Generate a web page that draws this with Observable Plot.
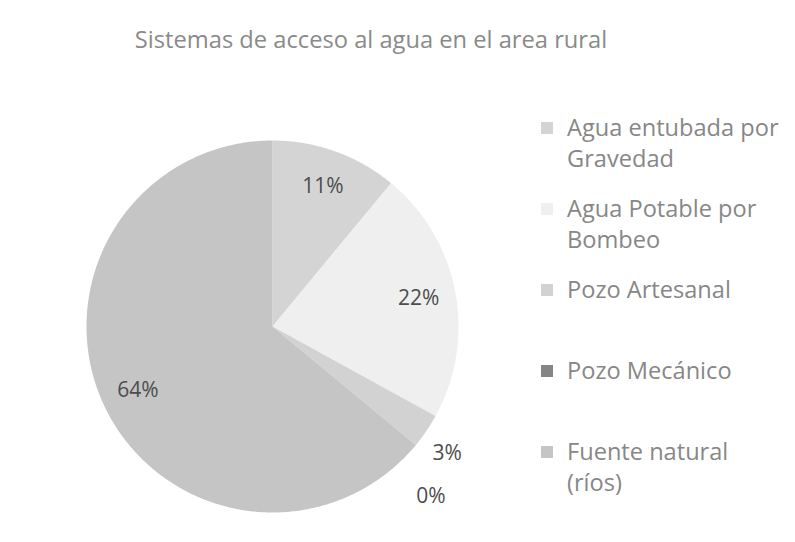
<!DOCTYPE html>
<html>
<head>
<meta charset="utf-8">
<script src="https://cdn.jsdelivr.net/npm/d3@7"></script>
<script src="https://cdn.jsdelivr.net/npm/@observablehq/plot@0.6"></script>
<style>
  html, body { margin: 0; padding: 0; background: #fff; }
  #chart { position: relative; width: 795px; height: 542px; overflow: hidden; font-family: "Open Sans", Lato, sans-serif; }
  #title { position: absolute; left: 0; top: 23px; width: 742px; text-align: center; font-size: 23.7px; color: #8a8a8a; white-space: nowrap; }
  #legend { position: absolute; left: 0; top: 0; }
  .item { position: absolute; left: 541px; display: flex; align-items: flex-start; }
  .sw { width: 12px; height: 12px; margin-top: 10px; margin-right: 14px; flex: none; }
  .lab { width: 217px; font-size: 23.6px; line-height: 31px; color: #878787; }
  svg { position: absolute; left: 0; top: 0; }
</style>
</head>
<body>
<div id="chart">
  <div id="title"></div>
  <div id="legend"></div>
</div>
<script>
const title = "Sistemas de acceso al agua en el area rural";
const categories = ["Agua entubada por Gravedad", "Agua Potable por Bombeo", "Pozo Artesanal", "Pozo Mecánico", "Fuente natural (ríos)"];
const values = [11, 22, 3, 0, 64];
const labels = ["11%", "22%", "3%", "0%", "64%"];
const colors = ["#d4d4d4", "#efefef", "#d2d2d2", "#858585", "#c5c5c5"];

const total = d3.sum(values);
const features = [];
const labelPts = [];
let acc = 0;
let outsideCount = 0;
categories.forEach((name, i) => {
  const a0 = acc / total * 2 * Math.PI;
  acc += values[i];
  const a1 = acc / total * 2 * Math.PI;
  if (values[i] > 0) {
    const ring = [[0, 0]];
    const n = Math.max(2, Math.ceil((a1 - a0) / 0.01));
    for (let k = 0; k <= n; k++) {
      const a = a0 + (a1 - a0) * k / n;
      ring.push([Math.sin(a), Math.cos(a)]);
    }
    ring.push([0, 0]);
    features.push({type: "Feature", properties: {name}, geometry: {type: "Polygon", coordinates: [ring]}});
  }
  let am = (a0 + a1) / 2;
  let r = 0.8;
  if (values[i] / total < 0.05) {
    r = 1.16 + outsideCount * 0.09;
    am += 0.03 + outsideCount * 0.1;
    outsideCount++;
  }
  labelPts.push({x: Math.sin(am) * r, y: Math.cos(am) * r, text: labels[i]});
});

document.getElementById("title").textContent = title;

const R = 186, cx = 272, cy = 326, W = 795, H = 542;
const plot = Plot.plot({
  width: W,
  height: H,
  marginLeft: cx - R,
  marginRight: W - cx - R,
  marginTop: cy - R,
  marginBottom: H - cy - R,
  projection: {type: "reflect-y", domain: {type: "MultiPoint", coordinates: [[-1, 0], [1, 0], [0, -1], [0, 1]]}},
  color: {domain: categories, range: colors},
  marks: [
    Plot.geo(features, {fill: d => d.properties.name, stroke: "none"}),
    Plot.text(labelPts, {x: "x", y: "y", text: "text", fontSize: 21, fill: "#4d4d4d", fontFamily: "'Open Sans', Lato, sans-serif"})
  ]
});
document.getElementById("chart").appendChild(plot);

const legend = document.getElementById("legend");
categories.forEach((name, i) => {
  const item = document.createElement("div");
  item.className = "item";
  item.style.top = (127 - 15.5 + i * 81) + "px";
  const sw = document.createElement("div");
  sw.className = "sw";
  sw.style.background = colors[i];
  const lab = document.createElement("div");
  lab.className = "lab";
  lab.textContent = name;
  item.appendChild(sw);
  item.appendChild(lab);
  legend.appendChild(item);
});
</script>
</body>
</html>
